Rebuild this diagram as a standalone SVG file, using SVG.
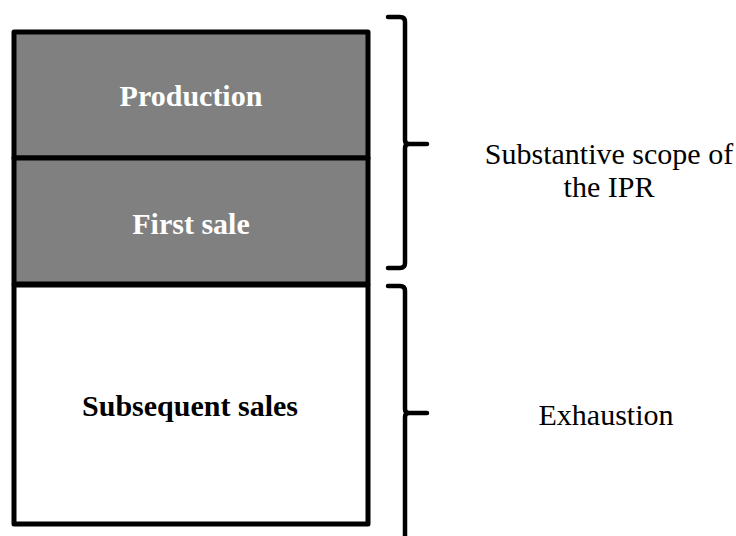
<svg xmlns="http://www.w3.org/2000/svg" width="736" height="536" viewBox="0 0 736 536">
<style>
.box{stroke:#000;stroke-width:5;stroke-linejoin:round}
.dark{fill:#808080}
.light{fill:#fff}
.lbl{font-family:"Liberation Serif","Times New Roman",serif;font-weight:bold;font-size:30px;text-anchor:middle}
.side{font-family:"Liberation Serif","Times New Roman",serif;font-size:30px;text-anchor:middle;fill:#000}
.brace{fill:none;stroke:#000;stroke-width:4.5;stroke-linecap:round;stroke-linejoin:round}
</style>
<rect width="736" height="536" fill="#fff"/>
<g id="production">
<rect class="box dark" x="14" y="32" width="354" height="126"/>
<text class="lbl" x="191" y="106" fill="#fff">Production</text>
</g>
<g id="first-sale">
<rect class="box dark" x="14" y="158" width="354" height="126"/>
<text class="lbl" x="191" y="234" fill="#fff">First sale</text>
</g>
<g id="subsequent-sales">
<rect class="box light" x="14" y="285" width="354" height="239"/>
<text class="lbl" x="190" y="416" fill="#000">Subsequent sales</text>
</g>
<g id="connectors">
<path class="brace" d="M388,17 L400,17 Q405,17 405,22 L405,140 Q405,144 409,144 L427,144 M409,144 Q405,144 405,148 L405,263 Q405,268 400,268 L388,268"/>
<path class="brace" d="M388,286 L400,286 Q405,286 405,291 L405,409 Q405,413 409,413 L427,413 M409,413 Q405,413 405,417 L405,540"/>
</g>
<g id="scope-label">
<text class="side" x="609" y="164">Substantive scope of</text>
<text class="side" x="609" y="197">the IPR</text>
</g>
<g id="exhaustion-label">
<text class="side" x="606" y="425">Exhaustion</text>
</g>
</svg>
